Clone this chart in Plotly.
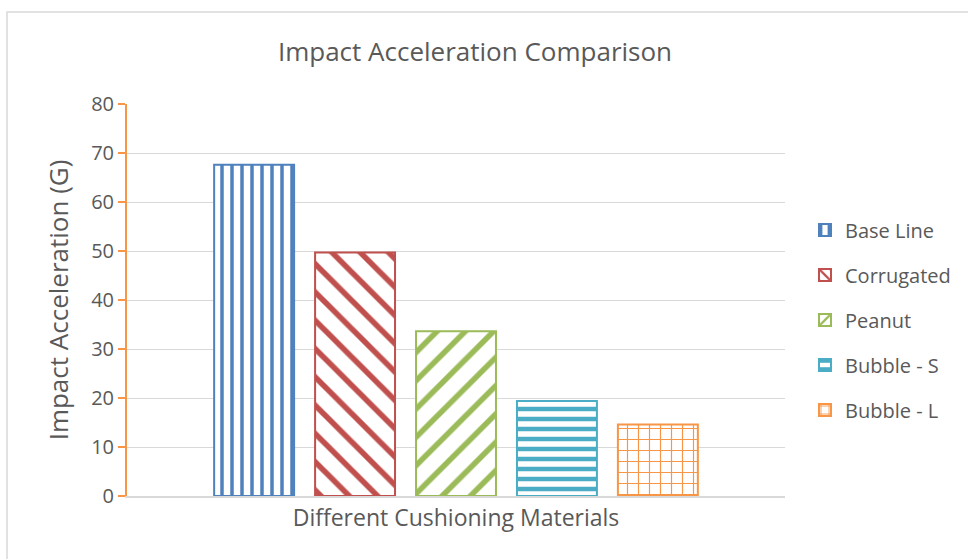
import plotly.graph_objects as go

category = ["Different Cushioning Materials"]
series_names = ["Base Line", "Corrugated", "Peanut", "Bubble - S", "Bubble - L"]
series_values = [67.6, 49.7, 33.6, 19.4, 14.6]
colors = ["#4F81BD", "#C0504D", "#9BBB59", "#4BACC6", "#F79646"]
patterns = ["|", "\\", "/", "-", "+"]
pattern_sizes = [10, 20, 20, 10, 11]
pattern_solidity = [0.35, 0.28, 0.28, 0.45, 0.2]
y_ticks = [0, 10, 20, 30, 40, 50, 60, 70, 80]

W, H = 968, 559
L, R, T, B = 127, 183, 104, 63
FONT = "Open Sans"
TXT = "#595959"

fig = go.Figure()
for i, name in enumerate(series_names):
    fig.add_trace(go.Bar(
        x=category, y=[series_values[i]], name=name, legendgroup=name,
        marker=dict(
            color="white",
            line=dict(color=colors[i], width=2),
            pattern=dict(shape=patterns[i], fgcolor=colors[i], bgcolor="white",
                         size=pattern_sizes[i], solidity=pattern_solidity[i],
                         fillmode="overlay", fgopacity=1),
        ),
    ))

fig.update_layout(
    width=W, height=H,
    margin=dict(l=L, r=R, t=T, b=B, autoexpand=False),
    paper_bgcolor="white", plot_bgcolor="white",
    barmode="group", bargap=0.233, bargroupgap=0.208,
    font=dict(family=FONT, color=TXT, size=19),
    title=dict(text="Impact Acceleration Comparison", x=475 / W, xanchor="center",
               y=1 - 52 / H, yanchor="middle", font=dict(size=26, color=TXT, family=FONT)),
    legend=dict(x=(805 - L) / (W - L - R), xanchor="left", y=(496 - 320) / (559 - T - B),
                yanchor="middle", font=dict(size=20, color=TXT), tracegroupgap=16,
                bgcolor="rgba(0,0,0,0)"),
    showlegend=True,
)
fig.update_yaxes(
    range=[0, 80], tickvals=y_ticks, showgrid=True, gridcolor="#D9D9D9", gridwidth=1,
    showline=True, linecolor="#F79646", linewidth=2, ticks="outside", tickcolor="#F79646",
    ticklen=7, tickwidth=2, tickfont=dict(size=20, color=TXT), zeroline=False,
    title=dict(text="Impact Acceleration (G)", font=dict(size=26, color=TXT), standoff=15),
)
fig.update_xaxes(
    showline=True, linecolor="#D9D9D9", linewidth=2, ticks="", showgrid=False,
    tickfont=dict(size=23, color=TXT),
)
fig.add_shape(type="rect", xref="paper", yref="paper",
              x0=(7 - L) / (W - L - R), x1=(W + 10 - L) / (W - L - R),
              y0=(496 - (H + 10)) / (H - T - B), y1=(496 - 12) / (H - T - B),
              line=dict(color="#D9D9D9", width=1.5), fillcolor="rgba(0,0,0,0)", layer="below")

fig.write_html("out.html")
